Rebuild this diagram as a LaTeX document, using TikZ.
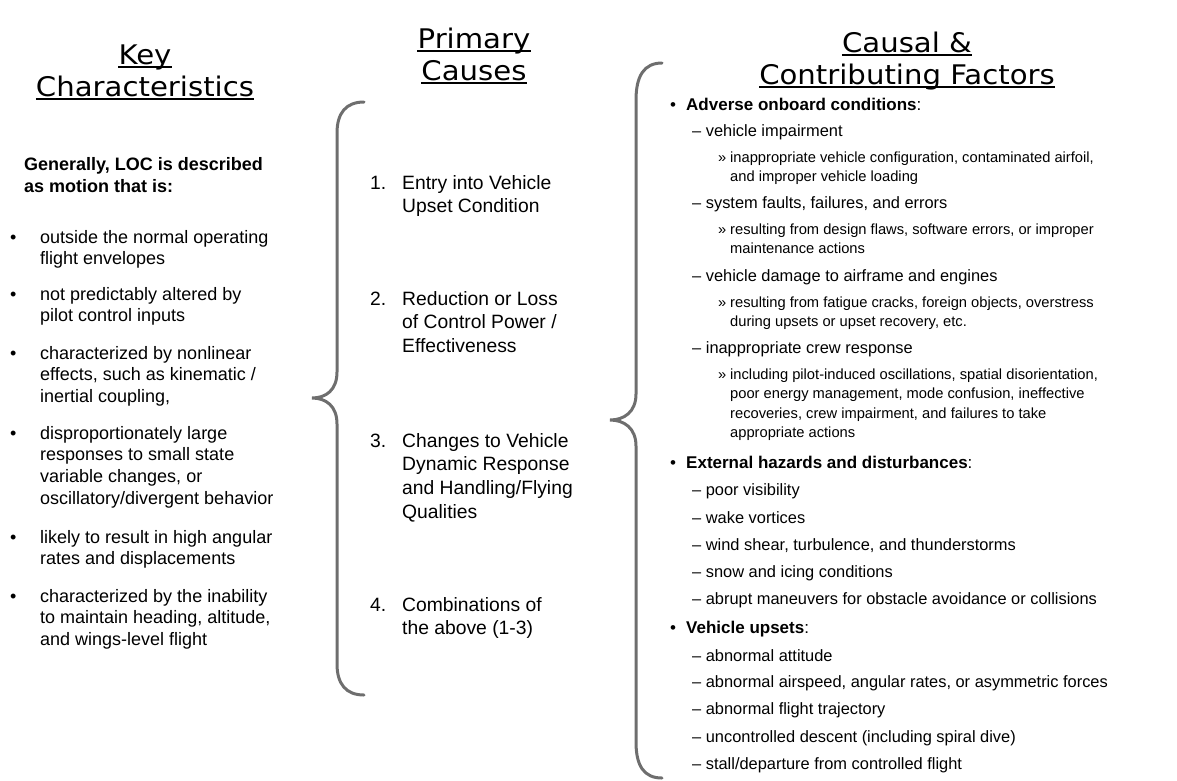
\documentclass[tikz,border=0pt]{standalone}
\usepackage{fontspec}
\setmainfont{Liberation Sans}
\newfontfamily\headfont{DejaVu Sans}[FakeStretch=1.08]
\definecolor{bracegray}{HTML}{6E6E6E}
\begin{document}
\begin{tikzpicture}[x=1pt,y=-1pt,
  hdr/.style={font=\headfont\fontsize{27}{32}\selectfont, anchor=base, inner sep=0pt},
  uline/.style={line width=1.4pt},
  bracepath/.style={draw=bracegray, line width=3pt, line cap=round},
  lcol/.style={anchor=base west, inner sep=0pt, font=\fontsize{18}{21.7}\selectfont},
  mcol/.style={anchor=base west, inner sep=0pt, font=\fontsize{19.3}{23.7}\selectfont},
  rone/.style={anchor=base west, inner sep=0pt, font=\fontsize{17}{20}\selectfont},
  rtwo/.style={anchor=base west, inner sep=0pt, font=\fontsize{16.4}{19}\selectfont},
  rthree/.style={anchor=base west, inner sep=0pt, font=\fontsize{14.7}{19.5}\selectfont}
]
\useasboundingbox (0,0) rectangle (1177,780);

% ---------- headers ----------
\node[hdr] (hk1) at (145,64) {Key};
\node[hdr] (hk2) at (145,96) {Characteristics};
\node[hdr] (hp1) at (474,48) {Primary};
\node[hdr] (hp2) at (474,80) {Causes};
\node[hdr] (hc1) at (907,52) {Causal \&};
\node[hdr] (hc2) at (907,84) {Contributing Factors};
\foreach \n in {hk1,hk2,hp1,hp2,hc1,hc2}
  \draw[uline] ([yshift=-3pt]\n.base west) -- ([yshift=-3pt]\n.base east);

% ---------- left column ----------
\node[lcol, font=\bfseries\fontsize{18}{22.5}\selectfont] (intro) at (24,170)
  {\parbox[t]{300pt}{Generally, LOC is described\\as motion that is:}};
\newcommand\lbul[1]{\parbox[t]{300pt}{\hangindent=30pt\hangafter=1\makebox[30pt][l]{•}#1}}
\node[lcol] (k1) at (10,243) {\lbul{outside the normal operating\\flight envelopes}};
\node[lcol] (k2) at (10,300) {\lbul{not predictably altered by\\pilot control inputs}};
\node[lcol] (k3) at (10,359) {\lbul{characterized by nonlinear\\effects, such as kinematic /\\inertial coupling,}};
\node[lcol] (k4) at (10,439) {\lbul{disproportionately large\\responses to small state\\variable changes, or\\oscillatory/divergent behavior}};
\node[lcol] (k5) at (10,543) {\lbul{likely to result in high angular\\rates and displacements}};
\node[lcol] (k6) at (10,602) {\lbul{characterized by the inability\\to maintain heading, altitude,\\and wings-level flight}};

% ---------- middle brace ----------
\coordinate (mtop) at (364,102);
\coordinate (mtip) at (312,398);
\coordinate (mbot) at (364,695);
\draw[bracepath] (mtop) .. controls (346,102) and (337,113) .. (337,133)
  -- (337,372) .. controls (337,390) and (326,398) .. (mtip)
  .. controls (326,398) and (337,406) .. (337,424)
  -- (337,664) .. controls (337,684) and (346,695) .. (mbot);

% ---------- middle column ----------
\newcommand\mitem[2]{\parbox[t]{260pt}{\hangindent=32pt\hangafter=1\makebox[32pt][l]{#1}#2}}
\node[mcol] (p1) at (370,189) {\mitem{1.}{Entry into Vehicle\\Upset Condition}};
\node[mcol] (p2) at (370,305) {\mitem{2.}{Reduction or Loss\\of Control Power /\\Effectiveness}};
\node[mcol] (p3) at (370,447) {\mitem{3.}{Changes to Vehicle\\Dynamic Response\\and Handling/Flying\\Qualities}};
\node[mcol] (p4) at (370,611) {\mitem{4.}{Combinations of\\the above (1-3)}};

% ---------- right brace ----------
\coordinate (rtop) at (662,63);
\coordinate (rtip) at (610,420);
\coordinate (rbot) at (662,778);
\draw[bracepath] (rtop) .. controls (644,63) and (636,76) .. (636,100)
  -- (636,394) .. controls (636,412) and (624,420) .. (rtip)
  .. controls (624,420) and (636,428) .. (636,446)
  -- (636,742) .. controls (636,766) and (644,778) .. (rbot);

% ---------- right column ----------
\newcommand\rbul[1]{\makebox[16pt][l]{•}#1}
\newcommand\rsub[1]{\parbox[t]{420pt}{\hangindent=12pt\hangafter=1\makebox[12pt][l]{»}#1}}
\node[rone] (r1) at (670,110) {\rbul{\textbf{Adverse onboard conditions}:}};
\node[rtwo] (r2) at (692,136) {– vehicle impairment};
\node[rthree] (r3) at (718,162) {\rsub{inappropriate vehicle configuration, contaminated airfoil,\\and improper vehicle loading}};
\node[rtwo] (r4) at (692,208) {– system faults, failures, and errors};
\node[rthree] (r5) at (718,234) {\rsub{resulting from design flaws, software errors, or improper\\maintenance actions}};
\node[rtwo] (r6) at (692,281) {– vehicle damage to airframe and engines};
\node[rthree] (r7) at (718,307) {\rsub{resulting from fatigue cracks, foreign objects, overstress\\during upsets or upset recovery, etc.}};
\node[rtwo] (r8) at (692,353) {– inappropriate crew response};
\node[rthree] (r9) at (718,379) {\rsub{including pilot-induced oscillations, spatial disorientation,\\poor energy management, mode confusion, ineffective\\recoveries, crew impairment, and failures to take\\appropriate actions}};
\node[rone] (r10) at (670,468) {\rbul{\textbf{External hazards and disturbances}:}};
\node[rtwo] (r11) at (692,495) {– poor visibility};
\node[rtwo] (r12) at (692,523) {– wake vortices};
\node[rtwo] (r13) at (692,550) {– wind shear, turbulence, and thunderstorms};
\node[rtwo] (r14) at (692,577) {– snow and icing conditions};
\node[rtwo] (r15) at (692,604) {– abrupt maneuvers for obstacle avoidance or collisions};
\node[rone] (r16) at (670,633) {\rbul{\textbf{Vehicle upsets}:}};
\node[rtwo] (r17) at (692,661) {– abnormal attitude};
\node[rtwo] (r18) at (692,687) {– abnormal airspeed, angular rates, or asymmetric forces};
\node[rtwo] (r19) at (692,714) {– abnormal flight trajectory};
\node[rtwo] (r20) at (692,742) {– uncontrolled descent (including spiral dive)};
\node[rtwo] (r21) at (692,769) {– stall/departure from controlled flight};
\end{tikzpicture}
\end{document}
